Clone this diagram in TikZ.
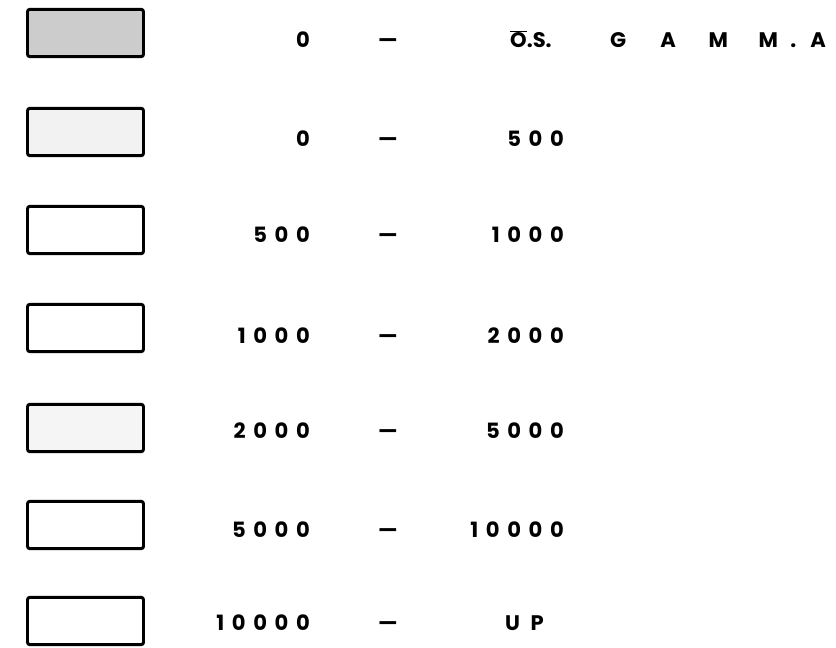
\documentclass[tikz,border=0pt]{standalone}
\usepackage{fontspec}
\setmainfont{Poppins}
\newfontfamily\legendfont[LetterSpace=36]{Poppins}
\usetikzlibrary{positioning}
\tikzset{
  swatch/.style = {draw, rectangle, rounded corners=2pt, line width=2.5pt,
                   minimum width=3.48cm, minimum height=1.42cm, inner sep=0pt},
  lo/.style     = {anchor=base east, inner sep=0pt,
                   font=\fontsize{18}{21}\selectfont\legendfont\bfseries},
  hi/.style     = {anchor=base east, inner sep=0pt,
                   font=\fontsize{18}{21}\selectfont\legendfont\bfseries},
  rangesep/.style = {anchor=base, inner sep=0pt,
                   font=\fontsize{18}{21}\selectfont\bfseries},
  cell/.style   = {anchor=base west, inner sep=0pt,
                   font=\fontsize{18}{21}\selectfont\bfseries}
}

\begin{document}
\begin{tikzpicture}[x=0.03cm, y=-0.03cm]
  \useasboundingbox (0,0) rectangle (836,648);

  % ── Swatches ──────────────────────────────────────────────────────────────
  \node[swatch, fill=gray!40] (box1) at (85.5,33)  {};
  \node[swatch, fill=gray!10] (box2) at (85.5,132) {};
  \node[swatch]               (box3) at (85.5,230) {};
  \node[swatch]               (box4) at (85.5,328) {};
  \node[swatch, fill=gray!8]  (box5) at (85.5,428) {};
  \node[swatch]               (box6) at (85.5,525) {};
  \node[swatch]               (box7) at (85.5,621) {};

  % ── Lower bounds ──────────────────────────────────────────────────────────
  \node[lo] (lo1) at (310,48)  {0};
  \node[lo] (lo2) at (310,147) {0};
  \node[lo] (lo3) at (310,243) {500};
  \node[lo] (lo4) at (310,343) {1000};
  \node[lo] (lo5) at (310,438) {2000};
  \node[lo] (lo6) at (310,537) {5000};
  \node[lo] (lo7) at (310,630) {10000};

  % ── Dashes ────────────────────────────────────────────────────────────────
  \node[rangesep] (sep1) at (388,48)  {—};
  \node[rangesep] (sep2) at (388,147) {—};
  \node[rangesep] (sep3) at (388,243) {—};
  \node[rangesep] (sep4) at (388,343) {—};
  \node[rangesep] (sep5) at (388,438) {—};
  \node[rangesep] (sep6) at (388,537) {—};
  \node[rangesep] (sep7) at (388,630) {—};

  % ── Upper bounds ──────────────────────────────────────────────────────────
  \node[cell] (hi1) at (510,48) {$\overline{\hbox{O}}$.S.};
  \node[hi]   (hi2) at (564,147) {500};
  \node[hi]   (hi3) at (564,243) {1000};
  \node[hi]   (hi4) at (564,343) {2000};
  \node[hi]   (hi5) at (564,438) {5000};
  \node[hi]   (hi6) at (564,537) {10000};
  \node[cell] (hi7) at (505,630) {U\,\,\,P};

  % spaced-out heading of the first row
  \node[cell] (gamma) at (593,48)
    {\makebox[1.5cm]{G}\makebox[1.5cm]{A}\makebox[1.5cm]{M}%
     \makebox[1.5cm]{M}\makebox[0pt]{.}\makebox[1.5cm]{A}};

\end{tikzpicture}
\end{document}
